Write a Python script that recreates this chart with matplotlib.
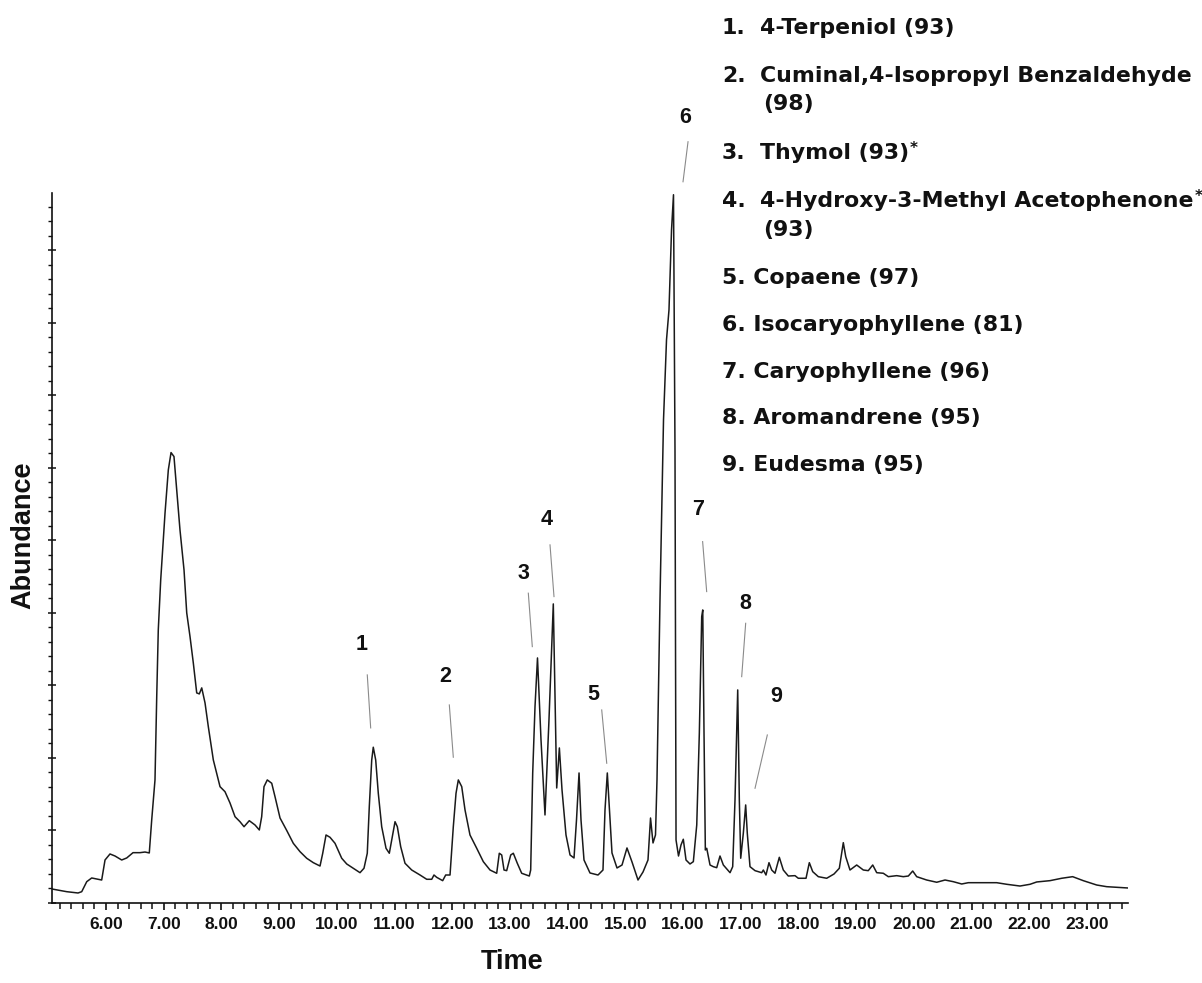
import matplotlib
matplotlib.use("Agg")
import matplotlib.pyplot as plt
from matplotlib.ticker import MultipleLocator, FixedLocator, NullFormatter

# ---------------- data (retention time in min, abundance in axis units) ----------------
time = [5.064, 5.319, 5.515, 5.579, 5.666, 5.752, 5.839, 5.925, 5.983, 6.069, 6.156, 6.272,
        6.359, 6.468, 6.589, 6.676, 6.750, 6.792, 6.849, 6.879, 6.906, 6.948, 7.023, 7.080,
        7.127, 7.178, 7.225, 7.282, 7.352, 7.399, 7.456, 7.513, 7.572, 7.617, 7.659, 7.716,
        7.773, 7.860, 7.976, 8.062, 8.149, 8.236, 8.322, 8.392, 8.483, 8.582, 8.657, 8.698,
        8.738, 8.795, 8.872, 8.929, 9.016, 9.132, 9.246, 9.362,
        9.478, 9.593, 9.709, 9.756, 9.813, 9.882, 9.969, 10.085, 10.172, 10.286, 10.402,
        10.471, 10.528, 10.563, 10.605, 10.632, 10.674, 10.719, 10.778, 10.853, 10.910,
        10.951, 11.009, 11.049, 11.107, 11.182, 11.298, 11.442, 11.558, 11.645, 11.684,
        11.731, 11.835, 11.887, 11.962, 12.019, 12.066, 12.106, 12.165, 12.222, 12.308,
        12.425, 12.539, 12.655, 12.771, 12.816, 12.858, 12.898, 12.944, 13.014, 13.059,
        13.128, 13.204, 13.336, 13.360, 13.395, 13.435, 13.478,
        13.539, 13.608, 13.677, 13.752, 13.790, 13.811, 13.857, 13.903, 13.972, 14.042,
        14.111, 14.154, 14.198, 14.232, 14.284, 14.388, 14.527, 14.613, 14.648, 14.688,
        14.726, 14.769, 14.856, 14.943, 15.029, 15.116, 15.220, 15.307, 15.393, 15.437,
        15.480, 15.523, 15.549, 15.601, 15.662, 15.714, 15.757, 15.801, 15.835, 15.861,
        15.879, 15.922, 15.965, 16.005, 16.052, 16.121, 16.179, 16.238, 16.283, 16.324,
        16.342, 16.364, 16.387, 16.411, 16.468, 16.525, 16.584, 16.641, 16.699, 16.815,
        16.861, 16.901, 16.948, 16.976, 17.000, 17.045, 17.086, 17.114, 17.161, 17.248,
        17.364, 17.392, 17.438, 17.490, 17.537, 17.594, 17.669, 17.738, 17.825, 17.941,
        17.998, 18.132, 18.189, 18.248, 18.345, 18.490, 18.617, 18.709, 18.778, 18.820,
        18.894, 19.010, 19.125, 19.211, 19.288, 19.357, 19.471, 19.558, 19.703, 19.818,
        19.905, 19.981, 20.050, 20.223, 20.397, 20.541, 20.684, 20.830, 20.944, 21.147,
        21.436, 21.610, 21.840, 22.014, 22.130, 22.360, 22.563, 22.753, 22.937, 23.170,
        23.343, 23.516, 23.712]

abundance = [0.193, 0.156, 0.138, 0.156, 0.294, 0.345, 0.331, 0.317, 0.593, 0.676, 0.648, 0.593,
             0.621, 0.694, 0.694, 0.703, 0.690, 1.145, 1.697, 2.846, 3.766, 4.455, 5.379, 5.972,
             6.211, 6.156, 5.697, 5.145, 4.593, 4.000, 3.673, 3.310, 2.897, 2.883, 2.966, 2.759,
             2.432, 1.972, 1.604, 1.535, 1.379, 1.190, 1.121, 1.052, 1.135, 1.076, 1.007, 1.190,
             1.604, 1.697, 1.651, 1.466, 1.172, 1.000, 0.823, 0.708,
             0.617, 0.556, 0.510, 0.686, 0.938, 0.906, 0.823, 0.617, 0.538, 0.479, 0.418,
             0.479, 0.686, 1.328, 1.972, 2.148, 1.972, 1.513, 1.052, 0.754, 0.686,
             0.869, 1.121, 1.052, 0.777, 0.548, 0.455, 0.386, 0.327, 0.327, 0.386,
             0.354, 0.308, 0.386, 0.386, 1.052, 1.513, 1.697, 1.604, 1.283, 0.938,
             0.754, 0.570, 0.455, 0.410, 0.686, 0.662, 0.455, 0.446, 0.662, 0.686,
             0.548, 0.410, 0.372, 0.455, 1.793, 2.708, 3.379,
             2.248, 1.214, 2.524, 4.124, 2.524, 1.586, 2.138, 1.559, 0.938, 0.662,
             0.621, 1.145, 1.793, 1.145, 0.593, 0.414, 0.386, 0.455, 1.283, 1.793,
             1.283, 0.690, 0.483, 0.524, 0.759, 0.566, 0.317, 0.428, 0.593, 1.172,
             0.828, 0.938, 1.697, 4.179, 6.662, 7.766, 8.179, 9.283, 9.766, 6.248,
             0.869, 0.648, 0.800, 0.879, 0.593, 0.538, 0.570, 1.076, 2.345, 3.949,
             4.041, 2.345, 0.731, 0.754, 0.524, 0.501, 0.487, 0.648, 0.524, 0.418,
             0.501, 1.421, 2.938, 1.421, 0.617, 0.961, 1.352, 0.961, 0.501, 0.446,
             0.418, 0.455, 0.386, 0.556, 0.455, 0.410, 0.630, 0.455, 0.372, 0.377,
             0.341, 0.341, 0.556, 0.432, 0.363, 0.341, 0.400, 0.479, 0.832, 0.639,
             0.455, 0.524, 0.455, 0.446, 0.524, 0.418, 0.410, 0.363, 0.377, 0.363,
             0.372, 0.441, 0.363, 0.317, 0.286, 0.317, 0.294, 0.262, 0.280, 0.280,
             0.280, 0.258, 0.234, 0.258, 0.290, 0.308, 0.341, 0.363, 0.308, 0.248,
             0.225, 0.217, 0.207]

# peak labels: number, label position, leader start, leader end (data units)
peak_ids = ["1", "2", "3", "4", "5", "6", "7", "8", "9"]
label_t = [10.437, 11.875, 13.232, 13.638, 14.445, 16.035, 16.265, 17.086, 17.612]
label_a = [3.559, 3.121, 4.548, 5.283, 2.869, 10.828, 5.421, 4.134, 2.846]
lead_t0 = [10.528, 11.950, 13.319, 13.695, 14.591, 16.087, 16.340, 17.086, 17.461]
lead_a0 = [3.145, 2.731, 4.272, 4.938, 2.662, 10.497, 4.983, 3.857, 2.317]
lead_t1 = [10.587, 12.019, 13.388, 13.764, 14.678, 16.000, 16.410, 17.017, 17.248]
lead_a1 = [2.414, 2.010, 3.535, 4.225, 1.927, 9.945, 4.294, 3.121, 1.582]

legend_nums = ["1.", "2.", "3.", "4."]
legend_names = ["4-Terpeniol (93)", "Cuminal,4-Isopropyl Benzaldehyde", "Thymol (93)",
                "4-Hydroxy-3-Methyl Acetophenone"]
legend_more = ["5. Copaene (97)", "6. Isocaryophyllene (81)", "7. Caryophyllene (96)",
               "8. Aromandrene (95)", "9. Eudesma (95)"]

x_major = list(range(6, 24))
x_labels = [f"{v:.2f}" for v in x_major]

# ---------------- figure ----------------
W, H = 1202, 983
fig = plt.figure(figsize=(W / 100, H / 100), dpi=100)
fig.patch.set_facecolor("white")

def fx(px):
    return px / W

def fy(py):
    return 1 - py / H

ax = fig.add_axes([fx(52), fy(903), fx(1128) - fx(52), fy(193) - fy(903)])
ax.set_xlim(5.064, 23.712)
ax.set_ylim(0, 9.79)

ax.plot(time, abundance, color="#1a1a1a", lw=1.1, solid_joinstyle="round")

for s in ["top", "right"]:
    ax.spines[s].set_visible(False)
for s in ["left", "bottom"]:
    ax.spines[s].set_linewidth(1.2)
    ax.spines[s].set_color("#111111")

ax.xaxis.set_major_locator(FixedLocator(x_major))
ax.set_xticklabels(x_labels)
ax.xaxis.set_minor_locator(MultipleLocator(0.2))
ax.yaxis.set_major_locator(MultipleLocator(1.0))
ax.yaxis.set_minor_locator(MultipleLocator(0.2))
ax.yaxis.set_major_formatter(NullFormatter())

ax.tick_params(axis="x", which="major", direction="out", length=5, width=1.2,
               color="#111111", pad=5)
ax.tick_params(axis="x", which="minor", direction="out", length=4, width=1.1, color="#111111")
ax.tick_params(axis="y", which="major", direction="inout", length=6, width=1.1, color="#111111")
ax.tick_params(axis="y", which="minor", direction="out", length=3, width=1.0, color="#111111")
for lbl in ax.get_xticklabels():
    lbl.set_fontfamily("Liberation Sans")
    lbl.set_fontweight("bold")
    lbl.set_fontsize(12.5)
    lbl.set_color("#111111")

# axis titles
fig.text(fx(512), fy(962), "Time", ha="center", va="center", fontsize=19.5,
         fontweight="bold", family="Liberation Sans", color="#111111")
fig.text(fx(23), fy(535), "Abundance", ha="center", va="center", rotation=90,
         fontsize=19.5, fontweight="bold", family="Liberation Sans", color="#111111")

# peak labels with leader lines
for pid, lt, la, t0, a0, t1, a1 in zip(peak_ids, label_t, label_a, lead_t0, lead_a0,
                                        lead_t1, lead_a1):
    ax.text(lt, la, pid, ha="center", va="center", fontsize=15.5, fontweight="bold",
            family="Liberation Sans", color="#111111", clip_on=False)
    ax.plot([t0, t1], [a0, a1], color="#8a8a8a", lw=0.8, clip_on=False)

# compound list
leg_kw = dict(fontsize=15.8, fontweight="bold", family="DejaVu Sans", color="#111111",
              va="center", ha="left")
rows_y = [28, 76, 153, 201]
for num, name, yy in zip(legend_nums, legend_names, rows_y):
    fig.text(fx(722), fy(yy), num, **leg_kw)
    fig.text(fx(760), fy(yy), name, **leg_kw)
fig.text(fx(763), fy(104), "(98)", **leg_kw)
fig.text(fx(763), fy(230), "(93)", **leg_kw)
for txt, yy in zip(legend_more, [278, 325, 372, 418, 465]):
    fig.text(fx(722), fy(yy), txt, **leg_kw)

# asterisks after Thymol and Acetophenone entries
fig.canvas.draw()
renderer = fig.canvas.get_renderer()
for t_obj in list(fig.texts):
    if t_obj.get_text() in ("Thymol (93)", "4-Hydroxy-3-Methyl Acetophenone"):
        bb = t_obj.get_window_extent(renderer)
        fig.text((bb.x1 + 1) / W, (bb.y1 + 2) / H, "*", fontsize=11, fontweight="bold",
                 family="DejaVu Sans", color="#111111", ha="left", va="top")

fig.savefig("out.png", dpi=100, facecolor="white")
